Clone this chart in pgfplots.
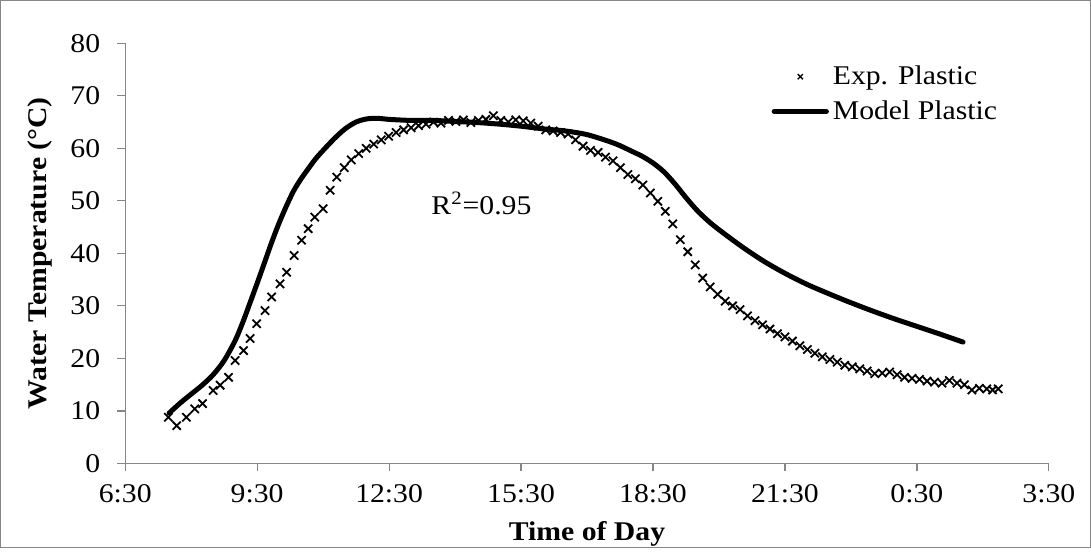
\documentclass[border=0pt]{standalone}
\usepackage{fontspec}
\setmainfont{Liberation Serif}[FakeStretch=1.1]
\usepackage{pgfplots}
\pgfplotsset{compat=1.18}
\definecolor{axisgray}{RGB}{134,134,134}

\pgfplotsset{
    expleg/.style={legend image code/.code={\draw[##1, mark size=1.8bp, line width=0.7bp] plot coordinates {(0.46cm,0cm)};}},
    modleg/.style={legend image code/.code={\draw[##1] (0cm,0cm) -- (0.92cm,0cm);}},
}

\begin{document}
\begin{tikzpicture}
\begin{axis}[
    scale only axis,
    width=461.5bp, height=210bp,
    xmin=6.5, xmax=27.5,
    ymin=0, ymax=80,
    xtick={6.5,9.5,12.5,15.5,18.5,21.5,24.5,27.5},
    xticklabels={6:30,9:30,12:30,15:30,18:30,21:30,0:30,3:30},
    ytick={0,10,...,80},
    axis x line*=bottom,
    axis y line*=left,
    axis line style={draw=axisgray, line width=0.6bp},
    tick style={draw=axisgray, line width=0.6bp},
    tick align=outside,
    major tick length=4bp,
    /pgf/number format/assume math mode=true,
    font=\fontsize{13.5bp}{16bp}\selectfont,
    yticklabel style={xshift=-5bp},
    xticklabel style={yshift=-3bp},
    xlabel={\bfseries Time of Day},
    ylabel={\bfseries Water Temperature (°C)},
    xlabel style={at={(rel axis cs:0.5,0)}, anchor=north, yshift=-25.5bp},
    ylabel style={at={(rel axis cs:0,0.5)}, anchor=south, yshift=33bp},
    clip=false,
    legend cell align=left,
    legend style={draw=none, fill=none, at={(rel axis cs:0.693,0.966)},
        anchor=north west, row sep=2.5bp,
        font=\fontsize{13.5bp}{16bp}\selectfont},
]

\addplot[black, only marks, mark=x, mark size=2.9bp, line width=0.9bp, expleg]
    coordinates {
    (7.48,8.8) (7.67,7.2) (7.89,8.8) (8.08,10.4) (8.26,11.4) (8.50,13.9)
    (8.66,14.9) (8.85,16.4) (9.00,19.6) (9.19,21.5) (9.34,23.8) (9.49,26.6)
    (9.68,29.1) (9.83,31.7) (10.02,34.2) (10.17,36.4) (10.34,39.6) (10.51,42.5)
    (10.66,44.7) (10.81,46.9) (11.00,48.5) (11.16,52.0) (11.31,54.5)
    (11.48,56.3) (11.64,57.8) (11.81,59.0) (11.98,60.0) (12.15,60.8) (12.32,61.6)
    (12.49,62.3) (12.66,63.0) (12.83,63.5) (13.00,63.9) (13.17,64.3) (13.34,64.6)
    (13.51,65.0) (13.68,64.8) (13.85,65.3) (14.02,65.1) (14.19,65.4) (14.36,64.9)
    (14.53,65.3) (14.70,65.5) (14.87,66.2) (15.04,65.3) (15.21,65.0) (15.38,65.4)
    (15.55,65.2) (15.72,64.8) (15.89,64.2) (16.06,63.5) (16.23,63.3) (16.40,63.0)
    (16.57,62.7) (16.74,61.6) (16.91,60.4) (17.08,59.6) (17.25,59.2) (17.42,58.3)
    (17.59,57.6) (17.76,56.3) (17.93,55.0) (18.10,54.2) (18.27,53.0) (18.44,51.5)
    (18.61,49.9) (18.78,48.0) (18.95,45.6) (19.12,42.6) (19.29,40.3) (19.46,37.8)
    (19.63,35.3) (19.80,33.6) (19.97,32.2) (20.14,30.9) (20.31,30.0) (20.48,29.3)
    (20.65,28.1) (20.82,27.2) (20.99,26.4) (21.16,25.6) (21.33,24.7) (21.50,24.1)
    (21.67,23.3) (21.84,22.4) (22.01,21.7) (22.18,21.0) (22.35,20.3) (22.52,19.8)
    (22.69,19.3) (22.86,18.7) (23.03,18.4) (23.20,18.0) (23.37,17.6) (23.54,17.1)
    (23.71,17.2) (23.88,17.4) (24.05,16.9) (24.22,16.4) (24.39,16.2) (24.56,16.0)
    (24.73,15.7) (24.90,15.5) (25.07,15.3) (25.24,15.8) (25.41,15.3) (25.58,15.0)
    (25.75,14.0) (25.92,14.3) (26.09,14.2) (26.22,14.0) (26.35,14.2)
    };
\addlegendentry{Exp. Plastic}

\addplot[black, line width=2.5bp, smooth, line cap=round, line join=round, modleg]
    coordinates {
    (7.5,9.6) (7.75,11.5) (8.0,13.2) (8.25,14.9) (8.5,16.9) (8.75,19.6)
    (9.0,23.4) (9.17,26.8) (9.33,30.4) (9.5,34.3) (9.67,38.3) (9.83,42.1)
    (10.0,45.8) (10.17,49.1) (10.33,51.9) (10.5,54.2) (10.67,56.2) (10.83,58.0)
    (11.0,59.6) (11.25,61.8) (11.5,63.7) (11.75,65.0) (12.0,65.6) (12.25,65.7)
    (12.5,65.5) (13.0,65.3) (13.5,65.3) (14.0,65.1) (14.5,64.9) (15.0,64.6)
    (15.5,64.2) (16.0,63.7) (16.5,63.3) (17.0,62.6) (17.5,61.3) (17.75,60.5)
    (18.0,59.5) (18.25,58.5) (18.5,57.2) (18.75,55.5) (19.0,53.2) (19.25,50.6)
    (19.5,48.2) (19.75,46.2) (20.0,44.5) (20.5,41.4) (21.0,38.6) (21.5,36.2)
    (22.0,34.1) (22.5,32.3) (23.0,30.6) (23.5,29.0) (24.0,27.5) (24.5,26.1)
    (25.0,24.7) (25.55,23.1)
    };
\addlegendentry{Model Plastic}

\node at (axis cs:14.6,49.5) {R\textsuperscript{2}=0.95};

\draw[axisgray, line width=0.6bp]
    (rel axis cs:-0.1349,-0.1990) rectangle (rel axis cs:1.0450,1.1014);
\end{axis}
\end{tikzpicture}
\end{document}
